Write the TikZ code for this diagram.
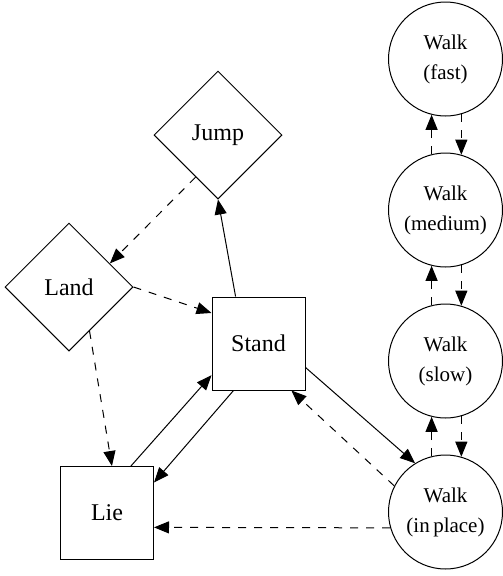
\documentclass[tikz,border=0pt]{standalone}
\usepackage{fontspec}
\setmainfont{Liberation Serif}
\usetikzlibrary{shapes.geometric,arrows.meta}
\tikzset{
  every picture/.style={line width=1pt},
  boxnode/.style={draw, rectangle, minimum width=93pt, minimum height=93pt, inner sep=0pt, font=\fontsize{24}{28}\selectfont},
  dianode/.style={draw, diamond, minimum width=128pt, minimum height=128pt, inner sep=0pt, font=\fontsize{24}{28}\selectfont},
  walknode/.style={draw, circle, minimum size=114pt, inner sep=0pt, align=center, font=\fontsize{21}{30}\selectfont},
  tip/.style={-{Triangle[length=15pt,width=12pt]}},
  dashedge/.style={tip, dash pattern=on 8pt off 8pt},
  solidedge/.style={tip},
}
\begin{document}
\begin{tikzpicture}[x=1pt,y=-1pt]
\useasboundingbox (0,0) rectangle (503,576);
\node[dianode] (jump) at (218,135) {Jump};
\node[dianode] (land) at (69,287) {Land};
\node[boxnode] (stand) at (258.5,343.5) {Stand};
\node[boxnode] (lie) at (107,513) {Lie};
\node[walknode] (fast) at (445.5,59) {Walk\\(fast)};
\node[walknode] (medium) at (445.5,210) {Walk\\(medium)};
\node[walknode] (slow) at (445.5,361) {Walk\\(slow)};
\node[walknode] (inplace) at (445.5,512) {Walk\\(in\,place)};

\draw[solidedge] (stand.116) -- (jump.south);
\draw[dashedge] (jump.242) -- (land.30);
\draw[dashedge] (land.east) -- (stand.147);
\draw[dashedge] (land.-65) -- (lie.84);
\draw[solidedge] (lie.63) -- (stand.214);
\draw[solidedge] (stand.242) -- (lie.33);
\draw[solidedge] (stand.-27) -- (inplace.122);
\draw[dashedge] (inplace.153) -- (stand.-55);
\draw[dashedge] (inplace.196) -- (lie.-17);

\draw[dashedge] (inplace.104) -- (slow.256);
\draw[dashedge] (slow.104) -- (medium.256);
\draw[dashedge] (medium.104) -- (fast.256);
\draw[dashedge] (fast.-74) -- (medium.74);
\draw[dashedge] (medium.-74) -- (slow.74);
\draw[dashedge] (slow.-74) -- (inplace.74);
\end{tikzpicture}
\end{document}
